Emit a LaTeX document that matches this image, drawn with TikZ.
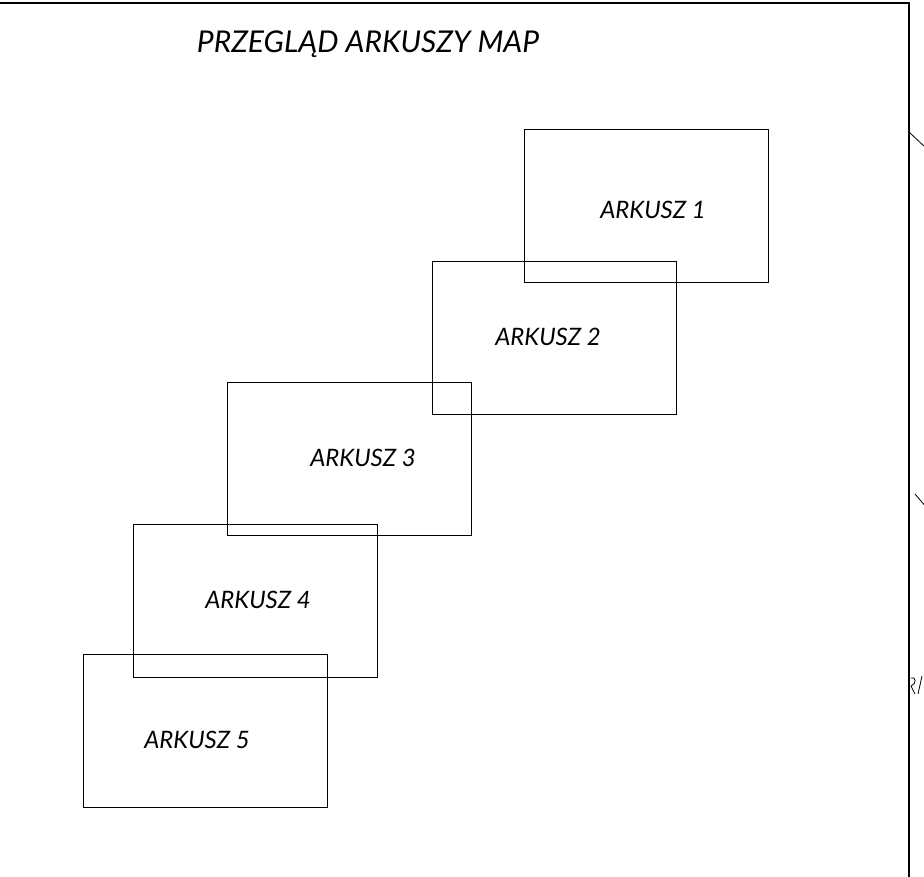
\documentclass[tikz,border=0pt]{standalone}
\usepackage{fontspec}
\setmainfont{Lato}
\usepackage{tikz}

\tikzset{
  sheet/.style={draw,line width=.9pt},
  sheetlabel/.style={font=\fontsize{24}{24}\selectfont\itshape,inner sep=0pt},
  frame/.style={line width=1.4pt}
}

\begin{document}
\begin{tikzpicture}[x=1pt,y=-1pt]
\useasboundingbox (0,0) rectangle (924,876);
\clip (0,0) rectangle (924,876);
% frame of the sheet
\draw[frame] (0,3) coordinate (ftl) -- (909,3) coordinate (ftr) -- (909,880) coordinate (fbr);
% bits of the next drawing
\draw[line width=.8pt] (909,132) -- (926,148);
\draw[line width=.8pt] (915,494) -- (926,507);
\draw[line width=.8pt] (911,678) .. controls (916,676) and (917,684) .. (911,686) -- (915,694);
\draw[line width=.8pt] (922,676) -- (918,694);
% title
\node[font=\fontsize{30}{30}\selectfont\itshape,inner sep=0pt] (title) at (368,44) {PRZEGLĄD ARKUSZY MAP};
% map sheets
\foreach \x/\y/\tx/\ty/\n in {524/129/653/210/1, 432/261/548/337/2, 227/382/363/458/3, 133/524/258/600/4, 83/654/197/740/5}{
  \draw[sheet] (\x,\y) rectangle ++(244,153);
  \node[sheetlabel] (ark\n) at (\tx,\ty) {ARKUSZ \n};
}
\end{tikzpicture}
\end{document}
